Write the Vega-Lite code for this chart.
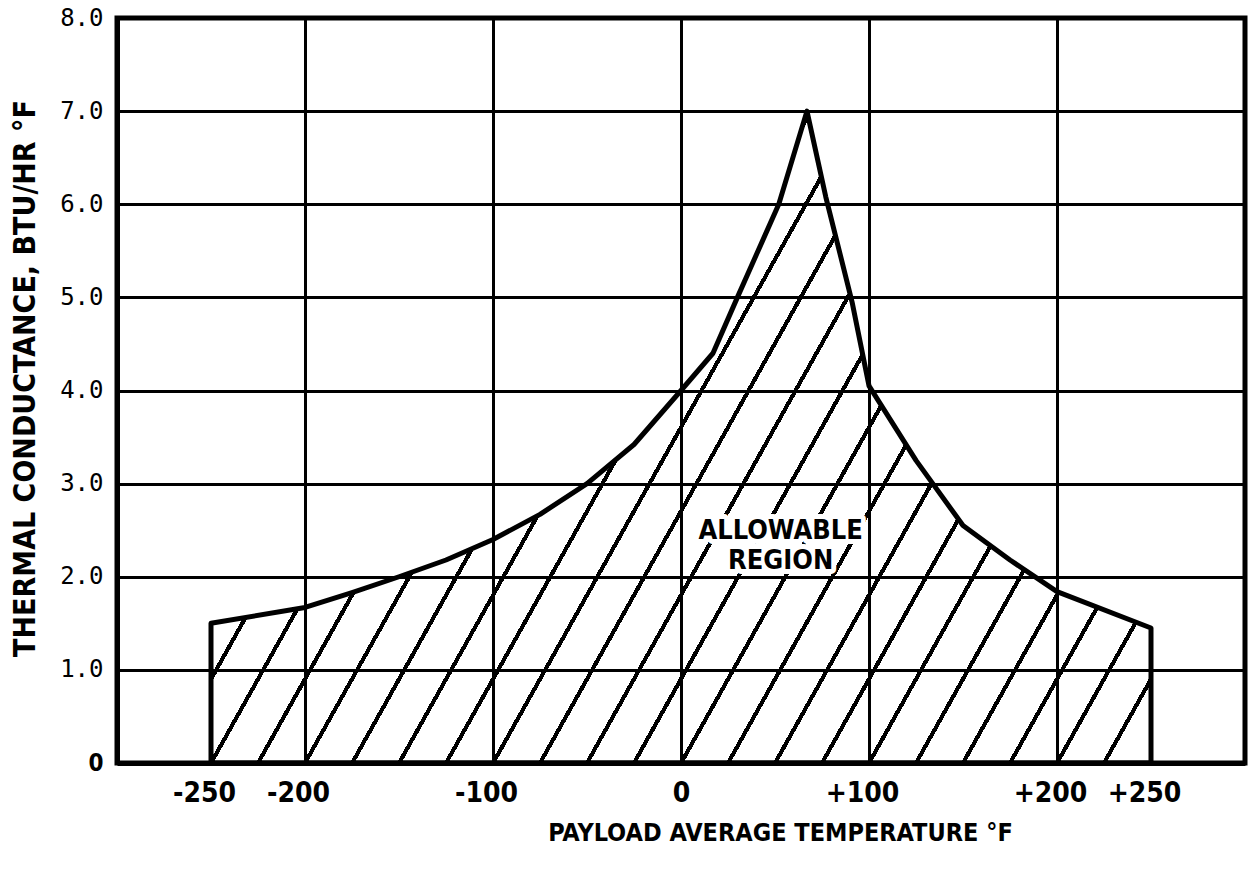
{
  "$schema": "https://vega.github.io/schema/vega-lite/v6.json",
  "width": 1128,
  "height": 745,
  "autosize": {"type": "none"},
  "padding": {"left": 117, "top": 18, "right": 7, "bottom": 106},
  "background": "white",
  "config": {
    "view": {"stroke": "black", "strokeWidth": 5},
    "font": "DejaVu Sans Condensed, sans-serif"
  },
  "layer": [
    {
      "data": {"values": [
        {"T": -250, "K": 1.5},
        {"T": -200, "K": 1.67},
        {"T": -175, "K": 1.83},
        {"T": -150, "K": 2.0},
        {"T": -125, "K": 2.18},
        {"T": -100, "K": 2.4},
        {"T": -75, "K": 2.67},
        {"T": -50, "K": 3.0},
        {"T": -25, "K": 3.42},
        {"T": 0, "K": 4.0},
        {"T": 17, "K": 4.4},
        {"T": 30, "K": 5.0},
        {"T": 52, "K": 6.0},
        {"T": 67, "K": 7.0},
        {"T": 77, "K": 6.08},
        {"T": 91, "K": 4.95},
        {"T": 100, "K": 4.05},
        {"T": 125, "K": 3.25},
        {"T": 150, "K": 2.55},
        {"T": 175, "K": 2.18},
        {"T": 200, "K": 1.84},
        {"T": 250, "K": 1.45}
      ]},
      "mark": {
        "type": "area",
        "interpolate": "linear",
        "stroke": "black",
        "strokeWidth": 5,
        "strokeJoin": "round",
        "fill": {
          "gradient": "linear",
          "x1": 0, "y1": 0, "x2": 1.2064, "y2": 0.4684,
          "stops": [
            {"offset": 0, "color": "rgba(0,0,0,0)"},
            {"offset": 0.2059, "color": "rgba(0,0,0,0)"}, {"offset": 0.2059, "color": "#000"}, {"offset": 0.2095, "color": "#000"}, {"offset": 0.2095, "color": "rgba(0,0,0,0)"},
            {"offset": 0.2419, "color": "rgba(0,0,0,0)"}, {"offset": 0.2419, "color": "#000"}, {"offset": 0.2455, "color": "#000"}, {"offset": 0.2455, "color": "rgba(0,0,0,0)"},
            {"offset": 0.2779, "color": "rgba(0,0,0,0)"}, {"offset": 0.2779, "color": "#000"}, {"offset": 0.2815, "color": "#000"}, {"offset": 0.2815, "color": "rgba(0,0,0,0)"},
            {"offset": 0.3139, "color": "rgba(0,0,0,0)"}, {"offset": 0.3139, "color": "#000"}, {"offset": 0.3175, "color": "#000"}, {"offset": 0.3175, "color": "rgba(0,0,0,0)"},
            {"offset": 0.3499, "color": "rgba(0,0,0,0)"}, {"offset": 0.3499, "color": "#000"}, {"offset": 0.3535, "color": "#000"}, {"offset": 0.3535, "color": "rgba(0,0,0,0)"},
            {"offset": 0.3860, "color": "rgba(0,0,0,0)"}, {"offset": 0.3860, "color": "#000"}, {"offset": 0.3896, "color": "#000"}, {"offset": 0.3896, "color": "rgba(0,0,0,0)"},
            {"offset": 0.4220, "color": "rgba(0,0,0,0)"}, {"offset": 0.4220, "color": "#000"}, {"offset": 0.4256, "color": "#000"}, {"offset": 0.4256, "color": "rgba(0,0,0,0)"},
            {"offset": 0.4580, "color": "rgba(0,0,0,0)"}, {"offset": 0.4580, "color": "#000"}, {"offset": 0.4616, "color": "#000"}, {"offset": 0.4616, "color": "rgba(0,0,0,0)"},
            {"offset": 0.4940, "color": "rgba(0,0,0,0)"}, {"offset": 0.4940, "color": "#000"}, {"offset": 0.4976, "color": "#000"}, {"offset": 0.4976, "color": "rgba(0,0,0,0)"},
            {"offset": 0.5300, "color": "rgba(0,0,0,0)"}, {"offset": 0.5300, "color": "#000"}, {"offset": 0.5336, "color": "#000"}, {"offset": 0.5336, "color": "rgba(0,0,0,0)"},
            {"offset": 0.5660, "color": "rgba(0,0,0,0)"}, {"offset": 0.5660, "color": "#000"}, {"offset": 0.5696, "color": "#000"}, {"offset": 0.5696, "color": "rgba(0,0,0,0)"},
            {"offset": 0.6020, "color": "rgba(0,0,0,0)"}, {"offset": 0.6020, "color": "#000"}, {"offset": 0.6056, "color": "#000"}, {"offset": 0.6056, "color": "rgba(0,0,0,0)"},
            {"offset": 0.6381, "color": "rgba(0,0,0,0)"}, {"offset": 0.6381, "color": "#000"}, {"offset": 0.6417, "color": "#000"}, {"offset": 0.6417, "color": "rgba(0,0,0,0)"},
            {"offset": 0.6741, "color": "rgba(0,0,0,0)"}, {"offset": 0.6741, "color": "#000"}, {"offset": 0.6777, "color": "#000"}, {"offset": 0.6777, "color": "rgba(0,0,0,0)"},
            {"offset": 0.7101, "color": "rgba(0,0,0,0)"}, {"offset": 0.7101, "color": "#000"}, {"offset": 0.7137, "color": "#000"}, {"offset": 0.7137, "color": "rgba(0,0,0,0)"},
            {"offset": 0.7461, "color": "rgba(0,0,0,0)"}, {"offset": 0.7461, "color": "#000"}, {"offset": 0.7497, "color": "#000"}, {"offset": 0.7497, "color": "rgba(0,0,0,0)"},
            {"offset": 0.7821, "color": "rgba(0,0,0,0)"}, {"offset": 0.7821, "color": "#000"}, {"offset": 0.7857, "color": "#000"}, {"offset": 0.7857, "color": "rgba(0,0,0,0)"},
            {"offset": 0.8181, "color": "rgba(0,0,0,0)"}, {"offset": 0.8181, "color": "#000"}, {"offset": 0.8217, "color": "#000"}, {"offset": 0.8217, "color": "rgba(0,0,0,0)"},
            {"offset": 0.8541, "color": "rgba(0,0,0,0)"}, {"offset": 0.8541, "color": "#000"}, {"offset": 0.8577, "color": "#000"}, {"offset": 0.8577, "color": "rgba(0,0,0,0)"},
            {"offset": 0.8902, "color": "rgba(0,0,0,0)"}, {"offset": 0.8902, "color": "#000"}, {"offset": 0.8938, "color": "#000"}, {"offset": 0.8938, "color": "rgba(0,0,0,0)"},
            {"offset": 0.9262, "color": "rgba(0,0,0,0)"}, {"offset": 0.9262, "color": "#000"}, {"offset": 0.9298, "color": "#000"}, {"offset": 0.9298, "color": "rgba(0,0,0,0)"},
            {"offset": 0.9622, "color": "rgba(0,0,0,0)"}, {"offset": 0.9622, "color": "#000"}, {"offset": 0.9658, "color": "#000"}, {"offset": 0.9658, "color": "rgba(0,0,0,0)"},
            {"offset": 1, "color": "rgba(0,0,0,0)"}
          ]
        }
      },
      "encoding": {
        "x": {
          "field": "T", "type": "quantitative",
          "scale": {"domain": [-300, 300], "nice": false, "zero": false},
          "axis": {
            "values": [-250, -200, -100, 0, 100, 200, 250],
            "labelExpr": "datum.value > 0 ? '+' + datum.value : '' + datum.value",
            "grid": true, "gridColor": "black", "gridWidth": 3,
            "gridOpacity": {"condition": {"test": "abs(datum.value) === 250", "value": 0}, "value": 1},
            "domainColor": "black", "domainWidth": 5,
            "ticks": false,
            "labelFont": "DejaVu Sans Condensed, sans-serif",
            "labelFontWeight": "bold", "labelFontSize": 28, "labelColor": "black",
            "labelPadding": 16, "labelFlush": false, "labelOverlap": false,
            "labelOffset": {"condition": {"test": "datum.value !== 0", "value": -7}, "value": 0},
            "title": "PAYLOAD AVERAGE TEMPERATURE  °F",
            "titleFont": "DejaVu Sans Condensed, sans-serif",
            "titleFontSize": 25, "titleFontWeight": "bold", "titleColor": "black",
            "titleX": 663, "titleY": 77, "titleAlign": "center", "titleBaseline": "alphabetic"
          }
        },
        "y": {
          "field": "K", "type": "quantitative",
          "scale": {"domain": [0, 8], "nice": false},
          "axis": {
            "values": [0, 1, 2, 3, 4, 5, 6, 7, 8],
            "labelExpr": "datum.value === 0 ? '0' : format(datum.value, '.1f')",
            "grid": true, "gridColor": "black", "gridWidth": 3,
            "domainColor": "black", "domainWidth": 5,
            "ticks": false,
            "labelFont": {"condition": {"test": "datum.value === 0", "value": "DejaVu Sans Condensed, sans-serif"}, "value": "DejaVu Sans Mono"},
            "labelFontWeight": {"condition": {"test": "datum.value === 0", "value": "bold"}, "value": "normal"},
            "labelFontSize": 24, "labelColor": "black", "labelPadding": 14,
            "labelFlush": false, "labelOverlap": false,
            "title": "THERMAL CONDUCTANCE, BTU/HR °F",
            "titleFont": "DejaVu Sans Condensed, sans-serif",
            "titleFontSize": 30, "titleFontWeight": "bold", "titleColor": "black",
            "titleAngle": -90, "titleX": -92, "titleY": 360,
            "titleAlign": "center", "titleBaseline": "middle"
          }
        }
      }
    },
    {
      "data": {"values": [{"T": 53, "K": 2.49, "label": "ALLOWABLE\nREGION"}]},
      "mark": {
        "type": "text", "lineBreak": "\n", "lineHeight": 30,
        "font": "DejaVu Sans Condensed, sans-serif",
        "fontWeight": "bold", "fontSize": 27,
        "align": "center", "baseline": "middle",
        "stroke": "white", "strokeWidth": 10, "strokeJoin": "round", "fill": "white"
      },
      "encoding": {
        "x": {"field": "T", "type": "quantitative"},
        "y": {"field": "K", "type": "quantitative"},
        "text": {"field": "label"}
      }
    },
    {
      "data": {"values": [{"T": 53, "K": 2.49, "label": "ALLOWABLE\nREGION"}]},
      "mark": {
        "type": "text", "lineBreak": "\n", "lineHeight": 30,
        "font": "DejaVu Sans Condensed, sans-serif",
        "fontWeight": "bold", "fontSize": 27,
        "align": "center", "baseline": "middle", "fill": "black"
      },
      "encoding": {
        "x": {"field": "T", "type": "quantitative"},
        "y": {"field": "K", "type": "quantitative"},
        "text": {"field": "label"}
      }
    }
  ]
}
